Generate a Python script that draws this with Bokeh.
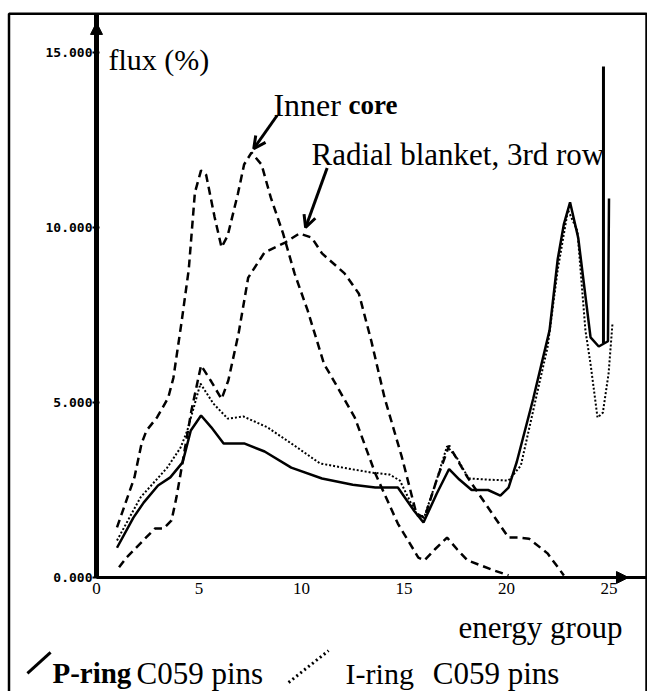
from bokeh.plotting import figure
from bokeh.models import (Label, Arrow, NormalHead, OpenHead, FixedTicker,
                          PrintfTickFormatter, Range1d)
from bokeh.embed import file_html
from bokeh.resources import INLINE

# ---- data (energy group, flux %) ----
p_ring_g = [1.0, 1.8, 2.3, 3.0, 3.6, 4.2, 4.6, 5.1, 5.6, 6.2, 7.2, 8.2, 9.5, 11.0, 12.5,
            13.6, 14.7, 15.5, 15.95, 16.6, 17.2, 17.7, 18.3, 19.1, 19.7, 20.1, 20.5,
            21.3, 22.1, 22.5, 22.8, 23.1, 23.5, 24.1, 24.5, 24.95, 25.0]
p_ring_v = [0.85, 1.71, 2.14, 2.63, 2.86, 3.29, 4.2, 4.63, 4.29, 3.83, 3.83, 3.6, 3.14,
            2.83, 2.65, 2.57, 2.57, 1.9, 1.57, 2.4, 3.1, 2.8, 2.5, 2.5, 2.34, 2.57, 3.3,
            5.1, 7.06, 9.1, 10.1, 10.72, 9.7, 6.86, 6.6, 6.75, 10.83]
spike_g = [24.73, 24.73]
spike_v = [6.7, 14.6]

i_ring_g = [1.0, 2.15, 3.45, 4.1, 4.43, 5.07, 5.7, 6.4, 7.17, 8.34, 9.8, 10.9, 12.2, 13.4,
            14.3, 14.8, 15.2, 15.65, 16.0, 16.6, 17.1, 17.6, 18.15, 19.0, 20.1, 20.7,
            21.66, 22.0, 22.5, 23.0, 23.46, 23.85, 24.1, 24.44, 24.7, 24.98, 25.17]
i_ring_v = [1.06, 2.29, 3.14, 3.71, 4.2, 5.54, 4.97, 4.54, 4.6, 4.29, 3.71, 3.26, 3.12,
            3.0, 2.94, 2.77, 2.29, 1.77, 1.75, 2.8, 3.75, 3.4, 2.83, 2.8, 2.77, 3.2, 5.7,
            6.57, 8.8, 10.5, 9.9, 7.06, 6.1, 4.57, 4.71, 5.83, 7.26]

core_g = [1.0, 1.85, 2.2, 2.44, 2.96, 3.5, 3.75, 4.15, 4.5, 4.8, 5.1, 5.35, 5.76, 6.1,
          6.4, 6.9, 7.2, 7.56, 8.05, 8.5, 9.1, 9.66, 10.3, 11.1, 11.5, 12.6, 13.6, 14.7,
          15.7, 16.0, 16.5, 17.1, 17.6, 18.1, 19.4, 20.1]
core_v = [1.43, 2.86, 3.83, 4.2, 4.58, 5.14, 5.7, 7.3, 8.8, 11.0, 11.63, 11.5, 10.3, 9.43,
          9.77, 10.97, 11.8, 12.14, 11.8, 10.86, 9.83, 8.69, 7.63, 6.1, 5.7, 4.57, 2.97,
          1.54, 0.57, 0.49, 0.8, 1.14, 0.8, 0.49, 0.2, 0.06]

blanket_g = [1.1, 1.46, 2.85, 3.27, 3.66, 3.9, 4.24, 4.63, 5.1, 5.6, 6.1, 6.43, 6.93, 7.4,
             8.2, 9.2, 9.9, 10.5, 11.0, 12.1, 12.8, 13.4, 14.05, 14.9, 15.6, 16.0, 16.6,
             17.2, 18.1, 19.1, 20.1, 20.6, 21.1, 22.0, 22.8]
blanket_v = [0.29, 0.57, 1.4, 1.4, 1.63, 2.29, 3.43, 4.77, 6.06, 5.6, 5.1, 5.63, 6.97,
             8.57, 9.29, 9.57, 9.83, 9.71, 9.26, 8.69, 8.11, 6.77, 5.14, 3.43, 1.83, 1.7,
             2.8, 3.77, 2.86, 2.0, 1.14, 1.14, 1.11, 0.69, 0.06]

x_ticks = [0, 5, 10, 15, 20, 25]
y_ticks = [0, 5, 10, 15]

SERIF = "Liberation Serif"

# frame covers the whole canvas; axes are drawn at fixed data locations
X0, X1 = -4.683, 26.878
Y0, Y1 = -3.257, 16.486
XMAX, YMAX = 26.83, 16.11   # extent of the drawn axes / box

p = figure(width=647, height=691, x_range=Range1d(X0, X1), y_range=Range1d(Y0, Y1),
           output_backend="svg", toolbar_location=None, min_border=0)
p.grid.visible = False
p.outline_line_color = None
p.background_fill_color = "white"
p.border_fill_color = "white"

# y axis
ya = p.yaxis[0]
ya.fixed_location = 0
ya.bounds = (0, YMAX)
ya.ticker = FixedTicker(ticks=y_ticks)
ya.formatter = PrintfTickFormatter(format="%.3f")
ya.axis_line_width = 5
ya.major_tick_in = 3
ya.major_tick_out = 4
ya.major_tick_line_width = 2
ya.minor_tick_line_color = None
ya.major_label_standoff = 0
ya.major_label_text_font = "DejaVu Sans Mono"
ya.major_label_text_font_style = "bold"
ya.major_label_text_font_size = "13px"
ya.major_label_text_color = "black"

# x axis
xa = p.xaxis[0]
xa.fixed_location = 0
xa.bounds = (0, XMAX)
xa.ticker = FixedTicker(ticks=x_ticks)
xa.axis_line_width = 3
xa.major_tick_in = 0
xa.major_tick_out = 0
xa.minor_tick_line_color = None
xa.major_label_standoff = 5
xa.major_label_text_font = SERIF
xa.major_label_text_font_size = "17px"
xa.major_label_text_color = "black"

# outer box (top, left, right edges)
p.line([-4.268, -4.268, XMAX, XMAX], [Y0 - 1, YMAX, YMAX, Y0 - 1],
       line_color="black", line_width=2.5)

# curves
p.line(core_g, core_v, line_color="black", line_width=2.5, line_dash="8 5")
p.line(blanket_g, blanket_v, line_color="black", line_width=2.5, line_dash="8 5")
p.line(i_ring_g, i_ring_v, line_color="black", line_width=2, line_dash="2 2")
p.line(p_ring_g, p_ring_v, line_color="black", line_width=2.5)
p.line(spike_g, spike_v, line_color="black", line_width=3)

# axis arrowheads
p.add_layout(Arrow(end=NormalHead(size=12, fill_color="black", line_color="black"),
                   x_start=0, y_start=15.3, x_end=0, y_end=15.86, line_width=3))
p.add_layout(Arrow(end=NormalHead(size=12, fill_color="black", line_color="black"),
                   x_start=25.2, y_start=0, x_end=25.95, y_end=0, line_width=3))

def lab(x, y, t, bold=False, size="31px"):
    p.add_layout(Label(x=x, y=y, text=t, text_font=SERIF, text_font_size=size,
                       text_baseline="alphabetic", text_color="black",
                       text_font_style="bold" if bold else "normal"))

lab(0.585, 14.8, "flux (%)", size="30px")
lab(8.63, 13.51, "Inner", size="32px")
lab(12.29, 13.51, "core", bold=True, size="27px")
lab(10.49, 12.09, "Radial blanket, 3rd row")
lab(17.66, -1.43, "energy group")
lab(-2.15, -2.74, "P-ring", bold=True, size="29px")
lab(1.95, -2.74, "C059 pins")
lab(12.15, -2.74, "I-ring", size="30px")
lab(16.4, -2.74, "C059 pins")

# annotation arrows
p.add_layout(Arrow(end=OpenHead(size=12, line_width=3, line_color="black"),
                   x_start=8.81, y_start=13.2, x_end=7.67, y_end=12.25, line_width=3))
p.add_layout(Arrow(end=OpenHead(size=12, line_width=3, line_color="black"),
                   x_start=11.25, y_start=11.7, x_end=10.2, y_end=10.0, line_width=3))

# legend strokes
p.add_layout(Arrow(end=None, x_start=-3.37, y_start=-2.74, x_end=-2.24, y_end=-2.14,
                   line_width=3, line_color="black"))
p.add_layout(Arrow(end=None, x_start=9.37, y_start=-3.0, x_end=11.32, y_end=-2.09,
                   line_width=3, line_color="black", line_dash="2 3"))

open("out.html", "w").write(file_html(p, INLINE))
